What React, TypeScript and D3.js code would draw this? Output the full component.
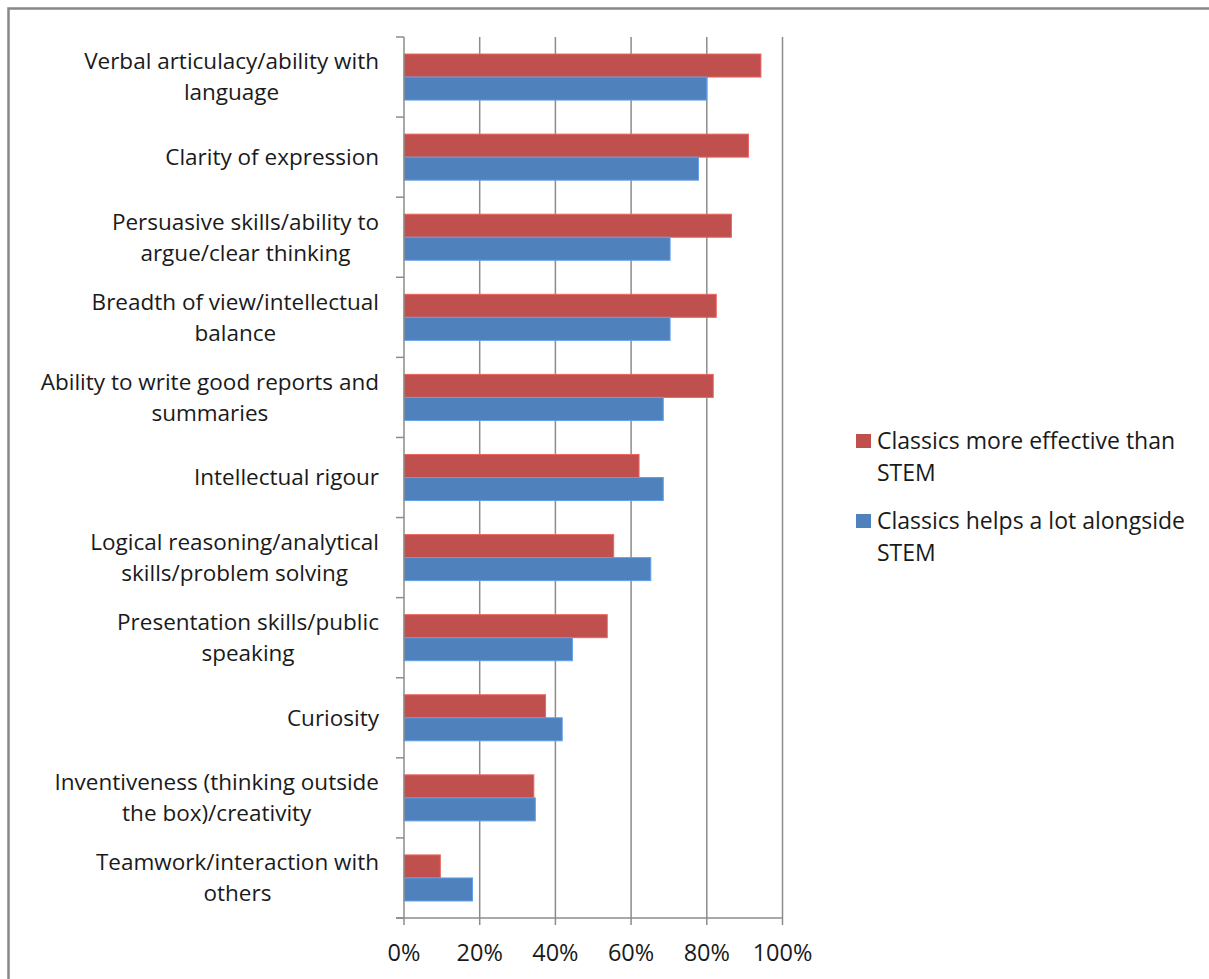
import React, { useRef, useEffect } from 'react';
import * as d3 from 'd3';

// categories, top to bottom; line breaks as in the original chart
const categories = [
  'Verbal articulacy/ability with\nlanguage',
  'Clarity of expression',
  'Persuasive skills/ability to\nargue/clear thinking',
  'Breadth of view/intellectual\nbalance',
  'Ability to write good reports and\nsummaries',
  'Intellectual rigour',
  'Logical reasoning/analytical\nskills/problem solving',
  'Presentation skills/public\nspeaking',
  'Curiosity',
  'Inventiveness (thinking outside\nthe box)/creativity',
  'Teamwork/interaction with\nothers',
];

const moreEffective = [94.3, 91.0, 86.5, 82.5, 81.7, 62.1, 55.4, 53.7, 37.4, 34.3, 9.6];
const helpsALot = [80.0, 77.8, 70.3, 70.3, 68.5, 68.5, 65.2, 44.5, 41.8, 34.7, 18.1];

const seriesNames = ['Classics more effective than\nSTEM', 'Classics helps a lot alongside\nSTEM'];
const seriesColors = ['#C0504D', '#4F81BD'];
const xTicks = [0, 20, 40, 60, 80, 100];

const App = () => {
  const svgRef = useRef(null);

  useEffect(() => {
    const width = 1209;
    const height = 979;
    const font = '"Open Sans", Lato, sans-serif';

    const svg = d3.select(svgRef.current)
      .attr('width', width)
      .attr('height', height)
      .style('display', 'block')
      .style('position', 'absolute')
      .style('left', 0)
      .style('top', 0);
    svg.selectAll('*').remove();

    svg.append('rect')
      .attr('width', width).attr('height', height).attr('fill', '#fff');

    // chart frame, runs off the right and bottom edges
    svg.append('rect')
      .attr('x', 8.5).attr('y', 8.5)
      .attr('width', 1300).attr('height', 1100)
      .attr('fill', 'none')
      .attr('stroke', '#888')
      .attr('stroke-width', 2.5);

    const x = d3.scaleLinear().domain([0, 100]).range([404, 782.5]);
    const y = d3.scaleBand()
      .domain(categories)
      .range([37, 918])
      .paddingInner(0.425)
      .paddingOuter(0.2125);
    const sub = d3.scaleBand().domain(['0', '1']).range([0, y.bandwidth()]);

    // vertical gridlines
    svg.append('g')
      .selectAll('line')
      .data(xTicks.filter(t => t > 0))
      .enter()
      .append('line')
      .attr('x1', d => x(d)).attr('x2', d => x(d))
      .attr('y1', 37).attr('y2', 918)
      .attr('stroke', '#8c8c8c')
      .attr('stroke-width', 1.5);

    // bars
    const series = [moreEffective, helpsALot];
    series.forEach((vals, si) => {
      svg.append('g')
        .selectAll('rect')
        .data(categories)
        .enter()
        .append('rect')
        .attr('x', x(0))
        .attr('y', d => y(d) + sub(String(si)))
        .attr('width', (d, i) => x(vals[i]) - x(0))
        .attr('height', sub.bandwidth())
        .attr('fill', seriesColors[si])
        .attr('stroke', d3.color(seriesColors[si]).brighter(0.6).formatHex())
        .attr('stroke-width', 1);
    });

    // y axis line and ticks
    const axisColor = '#8c8c8c';
    svg.append('line')
      .attr('x1', x(0)).attr('x2', x(0))
      .attr('y1', 37).attr('y2', 918)
      .attr('stroke', axisColor).attr('stroke-width', 1.5);
    const bounds = categories.map(c => y(c) - y.step() * y.paddingOuter()).concat([918]);
    svg.append('g')
      .selectAll('line')
      .data(bounds)
      .enter()
      .append('line')
      .attr('x1', x(0) - 8).attr('x2', x(0))
      .attr('y1', d => d).attr('y2', d => d)
      .attr('stroke', axisColor).attr('stroke-width', 1.5);

    // x axis line and ticks
    svg.append('line')
      .attr('x1', x(0) - 8).attr('x2', x(100))
      .attr('y1', 918).attr('y2', 918)
      .attr('stroke', axisColor).attr('stroke-width', 1.5);
    svg.append('g')
      .selectAll('line')
      .data(xTicks)
      .enter()
      .append('line')
      .attr('x1', d => x(d)).attr('x2', d => x(d))
      .attr('y1', 918).attr('y2', 925)
      .attr('stroke', axisColor).attr('stroke-width', 1.5);

    svg.append('g')
      .selectAll('text')
      .data(xTicks)
      .enter()
      .append('text')
      .attr('x', d => x(d))
      .attr('y', 953)
      .attr('dy', '0.35em')
      .attr('text-anchor', 'middle')
      .style('font-family', font)
      .style('font-size', '23.5px')
      .style('fill', '#1a1a1a')
      .text(d => `${d}%`);

    // category labels: centred lines, block right-aligned against the axis
    const lineH = 31;
    categories.forEach(c => {
      const lines = c.split('\n');
      const g = svg.append('g');
      const texts = lines.map((l, li) => g.append('text')
        .attr('y', y(c) + y.bandwidth() / 2 + (li - (lines.length - 1) / 2) * lineH)
        .attr('dy', '0.35em')
        .attr('text-anchor', 'middle')
        .style('font-family', font)
        .style('font-size', '22.5px')
        .style('fill', '#1a1a1a')
        .text(l));
      const maxW = d3.max(texts, t => t.node().getComputedTextLength());
      texts.forEach(t => t.attr('x', 379 - maxW / 2));
    });

    // legend
    const legendY = [441, 521];
    seriesNames.forEach((name, i) => {
      svg.append('rect')
        .attr('x', 856).attr('y', legendY[i] - 7)
        .attr('width', 15).attr('height', 14)
        .attr('fill', seriesColors[i]);
      name.split('\n').forEach((l, li) => {
        svg.append('text')
          .attr('x', 877)
          .attr('y', legendY[i] + li * 32)
          .attr('dy', '0.35em')
          .style('font-family', font)
          .style('font-size', '23px')
          .style('fill', '#1a1a1a')
          .text(l);
      });
    });
  }, []);

  return <svg ref={svgRef}></svg>;
};

export default App;
